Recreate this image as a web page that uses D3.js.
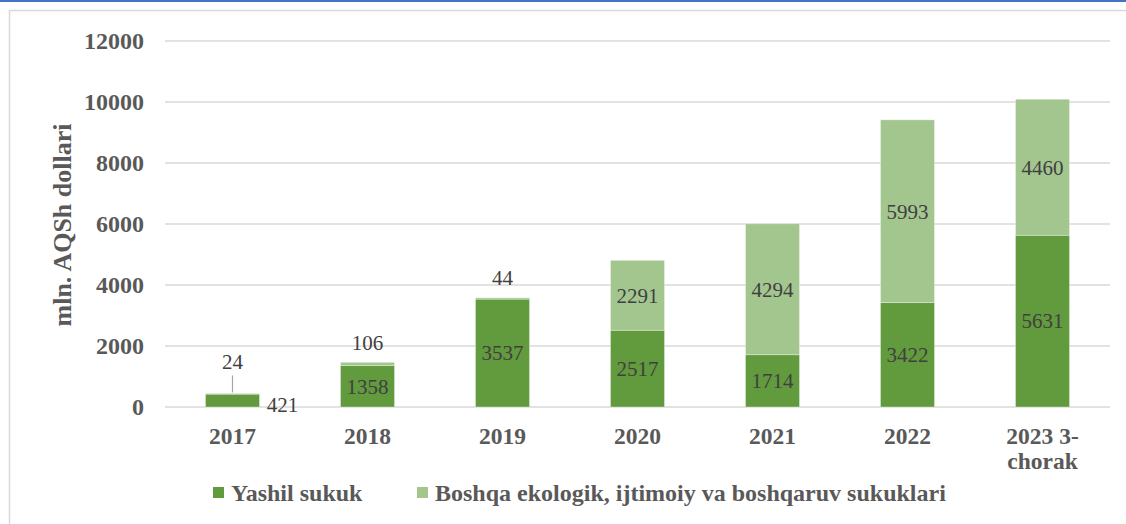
<!DOCTYPE html>
<html>
<head>
<meta charset="utf-8">
<script src="https://cdn.jsdelivr.net/npm/d3@7"></script>
<style>
  body { margin: 0; background: #fff; }
  svg { display: block; }
</style>
</head>
<body>
<svg id="chart"></svg>
<script>
// data
const years = ["2017", "2018", "2019", "2020", "2021", "2022", "2023 3-chorak"];
const yashil = [421, 1358, 3537, 2517, 1714, 3422, 5631];
const boshqa = [24, 106, 44, 2291, 4294, 5993, 4460];
const seriesNames = ["Yashil sukuk", "Boshqa ekologik, ijtimoiy va boshqaruv sukuklari"];
const yTicks = [0, 2000, 4000, 6000, 8000, 10000, 12000];

const width = 1126, height = 524;
const margin = {top: 41, right: 16, bottom: 117, left: 165};
const colors = ["#629a3e", "#a3c68f"];

const svg = d3.select("#chart")
    .attr("width", width)
    .attr("height", height)
    .attr("font-family", "'Liberation Serif', 'Times New Roman', serif");

// frame
svg.append("rect").attr("x", 0).attr("y", 0).attr("width", width).attr("height", 2).attr("fill", "#4472c4");
svg.append("path")
    .attr("d", `M9.5,${height} V10.5 H${width}`)
    .attr("fill", "none").attr("stroke", "#d9d9d9").attr("stroke-width", 1.5);

const x = d3.scaleBand()
    .domain(years)
    .range([margin.left, width - margin.right])
    .paddingInner(0.6)
    .paddingOuter(0.3);

const y = d3.scaleLinear()
    .domain([0, 12000])
    .range([height - margin.bottom, margin.top]);

// grid
svg.append("g")
    .selectAll("line")
    .data(yTicks)
  .enter().append("line")
    .attr("x1", margin.left).attr("x2", width - margin.right)
    .attr("y1", d => y(d)).attr("y2", d => y(d))
    .attr("stroke", "#d9d9d9").attr("stroke-width", 1.5);

// y axis labels
svg.append("g")
    .selectAll("text")
    .data(yTicks)
  .enter().append("text")
    .attr("x", 144).attr("y", d => y(d))
    .attr("dy", "0.35em")
    .attr("text-anchor", "end")
    .attr("font-size", 24).attr("font-weight", "bold").attr("fill", "#595959")
    .text(d => d);

svg.append("text")
    .attr("transform", `translate(71,225) rotate(-90)`)
    .attr("text-anchor", "middle")
    .attr("font-size", 26).attr("font-weight", "bold").attr("fill", "#595959")
    .text("mln. AQSh dollari");

// stacked bars
const rows = years.map((yr, i) => ({year: yr, a: yashil[i], b: boshqa[i]}));
const stack = d3.stack().keys(["a", "b"])(rows);

const layers = svg.selectAll(".layer")
    .data(stack)
  .enter().append("g")
    .attr("class", "layer")
    .attr("fill", (d, i) => colors[i]);

layers.selectAll("rect")
    .data(d => d)
  .enter().append("rect")
    .attr("x", d => x(d.data.year))
    .attr("width", x.bandwidth())
    .attr("y", d => y(d[1]))
    .attr("height", d => y(d[0]) - y(d[1]))
    .attr("stroke", "#ffffff").attr("stroke-opacity", 0.4).attr("stroke-width", 0.8);

// data labels
const labelStyle = sel => sel
    .attr("font-size", 21).attr("fill", "#404040")
    .attr("text-anchor", "middle").attr("dy", "0.35em");

rows.forEach((r, i) => {
  const cx = x(r.year) + x.bandwidth() / 2;
  // green label
  if (i === 0) {
    svg.append("text").call(labelStyle)
      .attr("x", x(r.year) + x.bandwidth() + 23).attr("y", y(r.a) + 10)
      .text(r.a);
  } else {
    svg.append("text").call(labelStyle)
      .attr("x", cx).attr("y", y(r.a / 2))
      .text(r.a);
  }
  // light label
  if (i === 0) {
    svg.append("line")
      .attr("x1", cx).attr("x2", cx)
      .attr("y1", y(r.a + r.b) - 1).attr("y2", y(r.a + r.b) - 18)
      .attr("stroke", "#a6a6a6").attr("stroke-width", 1.2);
    svg.append("text").call(labelStyle)
      .attr("x", cx).attr("y", y(r.a + r.b) - 32)
      .text(r.b);
  } else if (r.b < 500) {
    svg.append("text").call(labelStyle)
      .attr("x", cx).attr("y", y(r.a + r.b) - 20)
      .text(r.b);
  } else {
    svg.append("text").call(labelStyle)
      .attr("x", cx).attr("y", y(r.a + r.b / 2))
      .text(r.b);
  }
});

// x axis labels
const xl = svg.append("g")
    .selectAll("text")
    .data(years)
  .enter().append("text")
    .attr("x", d => x(d) + x.bandwidth() / 2)
    .attr("y", y(0) + 29)
    .attr("text-anchor", "middle")
    .attr("font-size", 23.5).attr("font-weight", "bold").attr("fill", "#595959");

xl.each(function(d) {
  const t = d3.select(this);
  const parts = d === "2023 3-chorak" ? ["2023 3-", "chorak"] : [d];
  parts.forEach((p, k) => {
    t.append("tspan")
      .attr("x", t.attr("x"))
      .attr("dy", k === 0 ? "0.35em" : "1.07em")
      .text(p);
  });
});

// legend
const legendPos = [213, 417];
const legend = svg.selectAll(".legend")
    .data(seriesNames)
  .enter().append("g")
    .attr("class", "legend")
    .attr("transform", (d, i) => `translate(${legendPos[i]},493)`);

legend.append("rect")
    .attr("x", 0).attr("y", -6)
    .attr("width", 11).attr("height", 11)
    .attr("fill", (d, i) => colors[i]);

legend.append("text")
    .attr("x", 18).attr("dy", "0.35em")
    .attr("font-size", 24).attr("font-weight", "bold").attr("fill", "#595959")
    .text(d => d);
</script>
</body>
</html>
